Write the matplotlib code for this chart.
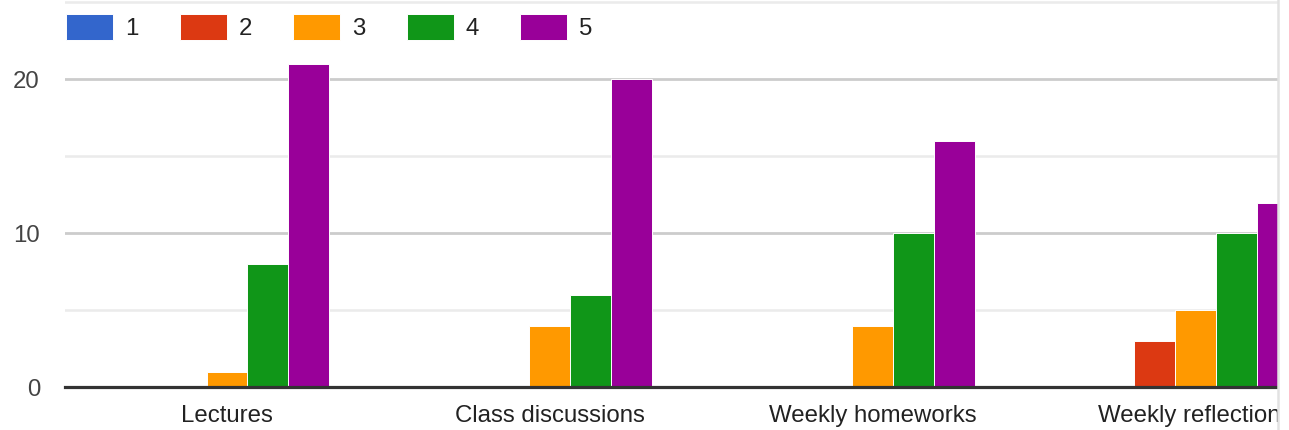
import numpy as np
import matplotlib
matplotlib.use("Agg")
import matplotlib.pyplot as plt
from matplotlib.patches import Rectangle
from matplotlib.lines import Line2D

plt.rcParams["font.family"] = ["Liberation Sans", "DejaVu Sans"]

# survey answers: how many people gave each rating (1-5) per course activity
activities = ["Lectures", "Class discussions", "Weekly homeworks", "Weekly reflections"]
ratings = ["1", "2", "3", "4", "5"]
rating_1 = [0, 0, 0, 0]
rating_2 = [0, 0, 0, 3]
rating_3 = [1, 4, 4, 5]
rating_4 = [8, 6, 10, 10]
rating_5 = [21, 20, 16, 12]
counts = [rating_1, rating_2, rating_3, rating_4, rating_5]
colors = ["#3366cc", "#dc3912", "#ff9900", "#109618", "#990099"]

W, H = 1289, 430
fig = plt.figure(figsize=(W / 100, H / 100), dpi=100)

left_px, right_px, zero_px = 65, 1278, 387.3
ax = fig.add_axes([left_px / W, 1 - zero_px / H, (right_px - left_px) / W, zero_px / H])

x = np.arange(len(activities))
bar_w = 0.127
for i, (vals, col) in enumerate(zip(counts, colors)):
    ax.bar(x + (i - 2) * bar_w, vals, width=bar_w, color=col,
           edgecolor="white", linewidth=0.7, label=ratings[i], zorder=3)

ax.set_xlim(-0.502, 3.257)
ax.set_ylim(0, 25.15)

# grid: darker lines on labelled ticks, lighter in between
ax.set_yticks([0, 10, 20])
ax.set_yticks([5, 15, 25], minor=True)
ax.grid(axis="y", which="major", color="#cccccc", linewidth=2.0, zorder=1)
ax.grid(axis="y", which="minor", color="#ebebeb", linewidth=1.8, zorder=1)
ax.axhline(0, color="#333333", linewidth=2.3, zorder=4, clip_on=False)

ax.set_xticks(x)
ax.set_xticklabels(activities)
ax.tick_params(axis="x", length=0, pad=12.5, labelsize=17.3, labelcolor="#222222")
ax.tick_params(axis="y", which="both", length=0, pad=18, labelsize=17.3,
               labelcolor="#444444")
for s in ax.spines.values():
    s.set_visible(False)

leg = ax.legend(loc="upper left", bbox_to_anchor=(66 / W, 1 - 16 / H),
                bbox_transform=fig.transFigure, ncol=5, frameon=False,
                fontsize=17.3, handlelength=1.96, handleheight=1.0,
                handletextpad=0.5, columnspacing=1.71, borderpad=0,
                borderaxespad=0)
for t in leg.get_texts():
    t.set_color("#222222")
for p in leg.get_patches():
    p.set_height(p.get_height() * 1.2)
    p.set_y(p.get_y() - p.get_height() * 0.08)

# the chart is cut off on the right by its container
fig.add_artist(Rectangle((right_px / W, 0), 1, 1, transform=fig.transFigure,
                         facecolor="white", edgecolor="none", zorder=10))
fig.add_artist(Line2D([1278 / W, 1278 / W], [0, 1], transform=fig.transFigure,
                      color="#e2e2e2", linewidth=1.8, zorder=11))

fig.savefig("out.png", dpi=100)
